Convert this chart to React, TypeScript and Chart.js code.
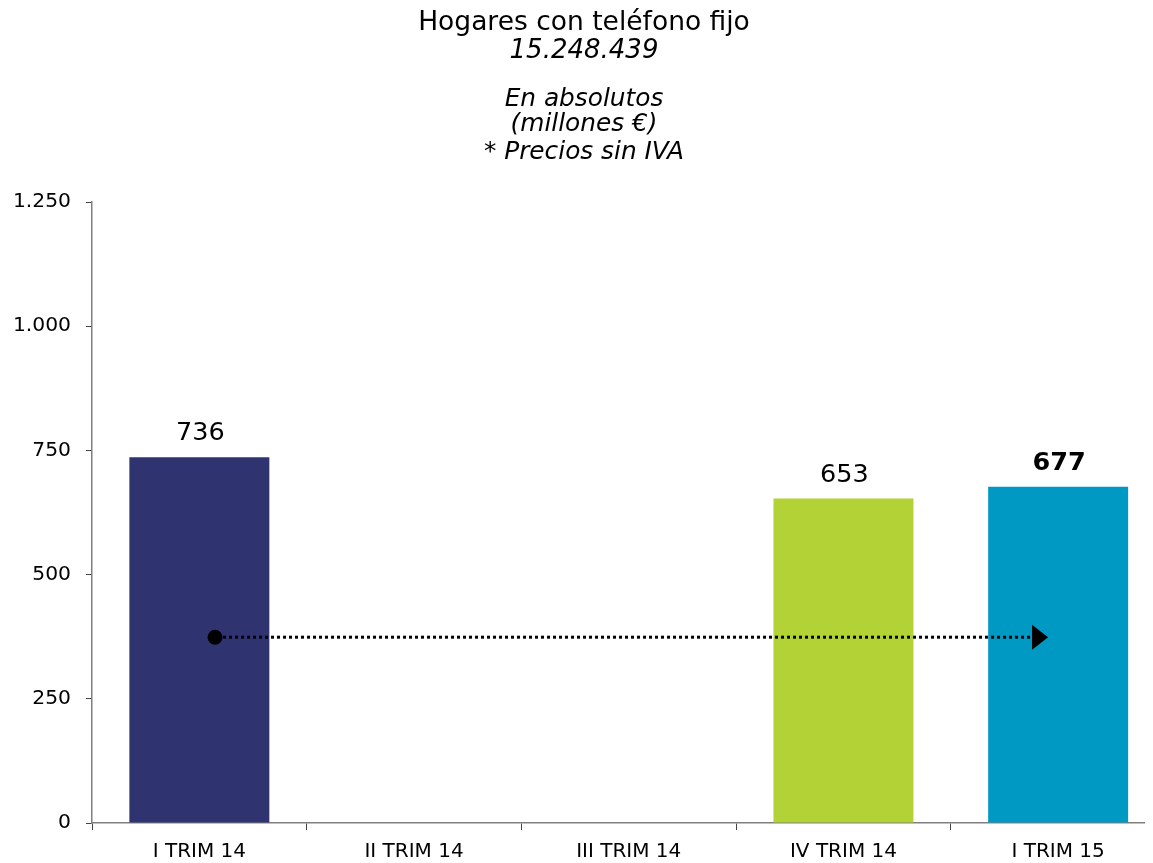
import React, { useEffect, useRef } from "react";
import { Chart, registerables } from "chart.js";

Chart.register(...registerables);

const categories = ["I TRIM 14", "II TRIM 14", "III TRIM 14", "IV TRIM 14", "I TRIM 15"];
const values: (number | null)[] = [736, null, null, 653, 677];
const barColors = ["#2F3470", "#2F3470", "#2F3470", "#B2D235", "#0099C4"];
const boldLabel = [false, false, false, false, true];
const yTicks = [0, 250, 500, 750, 1000, 1250];
const titleLines = ["Hogares con teléfono fijo", "15.248.439", "En absolutos", "(millones €)", "* Precios sin IVA"];
const titleItalic = [false, true, true, true, true];
// arrow annotation in data units: [category index, value]
const arrowStart = [0.073, 374];
const arrowEnd = [3.953, 374];

const FONT = "'DejaVu Sans', Verdana, sans-serif";

const fmt = (v: number) => String(v).replace(/\B(?=(\d{3})+(?!\d))/g, ".");

const overlayPlugin = {
  id: "overlay",
  afterDatasetsDraw(chart: any) {
    const ctx = chart.ctx;
    const xs = chart.scales.x;
    const ys = chart.scales.y;
    const meta = chart.getDatasetMeta(0);
    ctx.save();
    // value labels
    ctx.fillStyle = "#000";
    ctx.textAlign = "center";
    ctx.textBaseline = "alphabetic";
    meta.data.forEach((bar: any, i: number) => {
      const v = values[i];
      if (v == null) return;
      ctx.font = `${boldLabel[i] ? "bold " : ""}25.5px ${FONT}`;
      ctx.fillText(fmt(v), bar.x + 1, bar.y - 17);
    });
    // arrow
    const step = xs.getPixelForValue(1) - xs.getPixelForValue(0);
    const px = (c: number) => xs.getPixelForValue(0) + c * step;
    const x1 = px(arrowStart[0]);
    const y1 = ys.getPixelForValue(arrowStart[1]);
    const x2 = px(arrowEnd[0]);
    const y2 = ys.getPixelForValue(arrowEnd[1]);
    ctx.strokeStyle = "#000";
    ctx.lineWidth = 3;
    ctx.setLineDash([3, 3]);
    ctx.beginPath();
    ctx.moveTo(x1 + 8, y1);
    ctx.lineTo(x2 - 16, y2);
    ctx.stroke();
    ctx.setLineDash([]);
    ctx.fillStyle = "#000";
    ctx.beginPath();
    ctx.arc(x1, y1, 7.5, 0, Math.PI * 2);
    ctx.fill();
    ctx.beginPath();
    ctx.moveTo(x2, y2);
    ctx.lineTo(x2 - 16, y2 - 12.5);
    ctx.lineTo(x2 - 16, y2 + 12.5);
    ctx.closePath();
    ctx.fill();
    ctx.restore();
  },
  afterDraw(chart: any) {
    const ctx = chart.ctx;
    ctx.save();
    ctx.fillStyle = "#000";
    ctx.textAlign = "center";
    ctx.textBaseline = "alphabetic";
    const baselines = [21.5, 49.5, 98, 123, 151];
    const sizes = [26.5, 26, 24.8, 24.8, 24.8];
    titleLines.forEach((t, i) => {
      ctx.font = `${titleItalic[i] ? "italic " : ""}${sizes[i]}px ${FONT}`;
      ctx.fillText(t, 576, baselines[i]);
    });
    ctx.restore();
  },
};

export default function App() {
  const ref = useRef<HTMLCanvasElement>(null);
  useEffect(() => {
    document.body.style.overflow = "hidden";
    document.documentElement.style.overflow = "hidden";
    const chart = new Chart(ref.current as HTMLCanvasElement, {
      type: "bar",
      data: {
        labels: categories,
        datasets: [
          {
            data: values as any,
            backgroundColor: barColors,
            borderWidth: 0,
            categoryPercentage: 1,
            barPercentage: 0.652,
          },
        ],
      },
      options: {
        responsive: false,
        animation: false,
        layout: { padding: { top: 194, right: 4.5, left: 0, bottom: 0 } },
        plugins: {
          legend: { display: false },
          tooltip: { enabled: false },
          title: { display: false },
        },
        scales: {
          x: {
            grid: {
              offset: true,
              drawOnChartArea: false,
              drawTicks: true,
              tickLength: 7,
              color: "#444",
              lineWidth: 1,
            },
            border: { color: "#808080", width: 1.5 },
            ticks: {
              color: "#000",
              font: { family: FONT, size: 20 },
              padding: 10,
              maxRotation: 0,
              autoSkip: false,
            },
            afterFit(scale: any) {
              scale.height = 40;
            },
          },
          y: {
            min: 0,
            max: 1250,
            afterBuildTicks(scale: any) {
              scale.ticks = yTicks.map((v) => ({ value: v }));
            },
            grid: {
              drawOnChartArea: false,
              drawTicks: true,
              tickLength: 6,
              color: "#444",
              lineWidth: 1,
            },
            border: { color: "#808080", width: 1.5 },
            ticks: {
              color: "#000",
              font: { family: FONT, size: 20.3 },
              padding: 15,
              callback: (v: any) => fmt(Number(v)),
            },
            afterFit(scale: any) {
              scale.width = 84;
            },
          },
        },
      },
      plugins: [overlayPlugin],
    });
    return () => chart.destroy();
  }, []);
  return (
    <div style={{ width: 1145, height: 855, overflow: "hidden" }}>
      <canvas ref={ref} width={1162} height={855} style={{ width: 1162, height: 855, display: "block" }} />
    </div>
  );
}
